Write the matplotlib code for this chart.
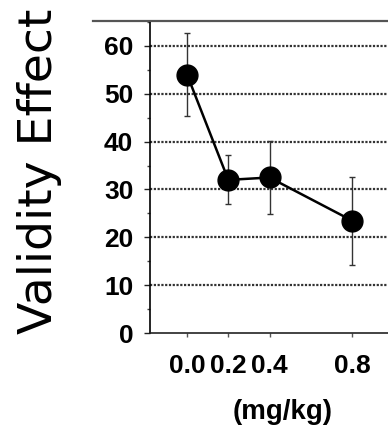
import matplotlib
matplotlib.use('Agg')
import matplotlib.pyplot as plt
from matplotlib.lines import Line2D
from matplotlib.ticker import MultipleLocator

# dose groups and mean validity effect with error bars
dose = [0.0, 0.2, 0.4, 0.8]
dose_labels = ['0.0', '0.2', '0.4', '0.8']
effect = [54.0, 32.0, 32.5, 23.5]
effect_err = [8.6, 5.1, 7.6, 9.2]
y_ticks = [0, 10, 20, 30, 40, 50, 60]

fig = plt.figure(figsize=(3.88, 4.40), dpi=100)
ax = fig.add_axes([150/388, 107/440, 238/388, 311/440])

tick_font = dict(family='Liberation Sans', weight='bold', size=19)

# dotted horizontal grid at every labelled value above zero
for yv in y_ticks[1:]:
    ax.axhline(yv, color='#333333', lw=1.6, ls=(0, (1, 0.7)), zorder=1)

ax.errorbar(dose, effect, yerr=effect_err, fmt='none', ecolor='#333333',
            elinewidth=1.0, capsize=2.5, capthick=1.0, zorder=2)
ax.plot(dose, effect, color='black', lw=1.8, marker='o', markersize=15,
        markerfacecolor='black', markeredgecolor='black', zorder=3)

ax.set_xlim(-0.18, 0.975)
ax.set_ylim(0, 65)
ax.set_xticks(dose)
ax.set_xticklabels(dose_labels, fontdict=tick_font)
ax.set_yticks(y_ticks)
ax.set_yticklabels([str(v) for v in y_ticks], fontdict=tick_font)
ax.yaxis.set_minor_locator(MultipleLocator(5))

ax.tick_params(axis='y', which='major', direction='out', length=4, width=1, pad=8, color='#222222')
ax.tick_params(axis='y', which='minor', direction='out', length=2.5, width=1, color='#444444')
ax.tick_params(axis='x', which='major', direction='out', length=3, width=1, pad=12, color='#555555')

for side in ['top', 'right']:
    ax.spines[side].set_visible(False)
ax.spines['left'].set_linewidth(1.2)
ax.spines['bottom'].set_linewidth(1.2)
ax.spines['bottom'].set_color('#222222')

ax.set_xlabel('(mg/kg)', family='Liberation Sans', weight='bold', size=20)
ax.xaxis.set_label_coords(0.559, -0.212)

# frame line running across the top of the panel
fig.add_artist(Line2D([93/388, 1.0], [1 - 21/440, 1 - 21/440],
                      color='#555555', lw=1.6, transform=fig.transFigure))

fig.text(52/388, 1 - 334/440, 'Validity Effect', family='DejaVu Sans', size=34,
         rotation=90, rotation_mode='anchor', ha='left', va='baseline')

fig.savefig('out.png', dpi=100)
